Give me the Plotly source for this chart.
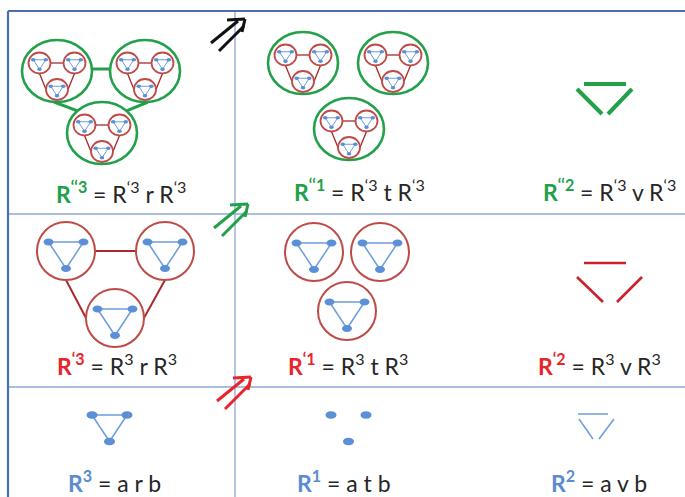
import plotly.graph_objects as go

W, H = 685, 497

# ---------------- data (pixel-space diagram geometry) ----------------
TRI = [(-17.5, -9.0), (17.5, -9.0), (0.0, 17.5)]          # triangle motif offsets
TRI_EDGES = [(0, 1), (0, 2), (1, 2)]

# bottom row: base relations
R3_center = (109.5, 424)
R1_center = (348.5, 424)
R2_lines = [((578, 414), (608, 414)), ((579, 419), (593, 439)), ((614, 419), (599, 439))]

# middle row: red circles
Rp3_centers = [(66, 251), (165, 251), (115, 318)]
Rp1_centers = [(314, 252), (380, 252), (347, 311)]
Rp_radius = 29
Rp2_lines = [((584, 263), (626, 263)), ((577, 277), (603, 302)), ((642, 277), (617, 302))]

# top row: green circles
Rpp3_centers = [(57, 71), (145, 71), (102, 133)]
Rpp1_centers = [(303, 63), (393, 63), (349, 129)]
G_rx, G_ry = 35, 31
small_rx, small_ry = 11, 10.5
Rpp2_lines = [((584, 84), (626, 84)), ((577, 89), (602, 114)), ((632, 89), (608, 114))]

# arrows (tips)
arrow_tips = [(245, 19), (248, 204), (251, 377)]
arrow_colors = ["#111111", "#22A04A", "#E8252B"]

# frame
row_lines_y = [214, 387]
col_line_x = 235

labels = [
    (121, 192, "<span style='color:#22A04A'><b>R<sup>‘‘3</sup></b></span> = R<sup>‘3</sup> r R<sup>‘3</sup>"),
    (359, 190, "<span style='color:#22A04A'><b>R<sup>‘‘1</sup></b></span> = R<sup>‘3</sup> t R<sup>‘3</sup>"),
    (609, 190, "<span style='color:#22A04A'><b>R<sup>‘‘2</sup></b></span> = R<sup>‘3</sup> v R<sup>‘3</sup>"),
    (117, 364, "<span style='color:#E8252B'><b>R<sup>‘3</sup></b></span> = R<sup>3</sup> r R<sup>3</sup>"),
    (348, 364, "<span style='color:#E8252B'><b>R<sup>‘1</sup></b></span> = R<sup>3</sup> t R<sup>3</sup>"),
    (599, 364, "<span style='color:#E8252B'><b>R<sup>‘2</sup></b></span> = R<sup>3</sup> v R<sup>3</sup>"),
    (114, 481, "<span style='color:#5B8BD0'><b>R<sup>3</sup></b></span> = a r b"),
    (344, 481, "<span style='color:#5B8BD0'><b>R<sup>1</sup></b></span> = a t b"),
    (599, 481, "<span style='color:#5B8BD0'><b>R<sup>2</sup></b></span> = a v b"),
]

BLUE = "#5B8FD6"
BLUE_L = "#6D9DDB"
RED_C = "#BE4B48"
RED_L = "#A82A2A"
RED_V = "#C8232B"
GREEN = "#22A04A"
FRAME = "#4A6FB5"
FRAME_L = "#8EA8D6"

fig = go.Figure()
shapes = []


def seg_trace(segs, color, width):
    xs, ys = [], []
    for (a, b) in segs:
        xs += [a[0], b[0], None]
        ys += [a[1], b[1], None]
    fig.add_trace(go.Scatter(x=xs, y=ys, mode="lines", line=dict(color=color, width=width),
                             hoverinfo="skip", showlegend=False))


def ellipse(cx, cy, rx, ry, color, width, fill=None):
    shapes.append(dict(type="circle", xref="x", yref="y", x0=cx - rx, x1=cx + rx, y0=cy - ry, y1=cy + ry,
                       line=dict(color=color, width=width), fillcolor=fill or "rgba(0,0,0,0)", layer="above"))


def blue_triangle(cx, cy, s, edges, node_rx, node_ry, lw):
    pts = [(cx + dx * s, cy + dy * s) for dx, dy in TRI]
    if edges:
        seg_trace([(pts[i], pts[j]) for i, j in TRI_EDGES], BLUE_L, lw)
    for p in pts:
        ellipse(p[0], p[1], node_rx, node_ry, BLUE, 0, BLUE)


def red_group(centers, rx, ry, connect, tri_scale, node_rx, node_ry, lw_c, lw_l, lw_b):
    A, B, C = centers
    if connect:
        seg_trace([((A[0] + rx, A[1]), (B[0] - rx, B[1])),
                   ((A[0], A[1] + ry), (C[0] - rx, C[1])),
                   ((B[0], B[1] + ry), (C[0] + rx, C[1]))], RED_L, lw_l)
    for c in centers:
        ellipse(c[0], c[1], rx, ry, RED_C, lw_c)
        blue_triangle(c[0], c[1], tri_scale, True, node_rx, node_ry, lw_b)


def green_group(centers, connect):
    A, B, C = centers
    if connect:
        seg_trace([((A[0] + G_rx, A[1] - 2), (B[0] - G_rx, B[1] - 2)),
                   ((A[0] - 3, A[1] + G_ry), (C[0] - 0.72 * G_rx, C[1] - 0.72 * G_ry)),
                   ((B[0] + 3, B[1] + G_ry), (C[0] + 0.72 * G_rx, C[1] - 0.72 * G_ry))], GREEN, 3)
    for g in centers:
        ellipse(g[0], g[1], G_rx, G_ry, GREEN, 2.6)
        smalls = [(g[0] + dx, g[1] + 1 + dy) for dx, dy in TRI]
        red_group(smalls, small_rx, small_ry, True, 0.36, 2.3, 1.8, 1.8, 1.3, 1.0)


# frame
seg_trace([((col_line_x, 11), (col_line_x, H))], FRAME_L, 1.3)
seg_trace([((8, y), (W, y)) for y in row_lines_y], FRAME_L, 1.6)
seg_trace([((8, 11), (W, 11)), ((8, 11), (8, H))], FRAME, 2.2)

# bottom row
blue_triangle(R3_center[0], R3_center[1], 1.0, True, 5.5, 3.8, 1.5)
blue_triangle(R1_center[0], R1_center[1], 1.0, False, 5.5, 3.8, 1.5)
seg_trace(R2_lines, BLUE_L, 1.5)

# middle row
red_group(Rp3_centers, Rp_radius, Rp_radius, True, 1.0, 5.0, 3.5, 2.0, 2.0, 1.5)
red_group(Rp1_centers, Rp_radius, Rp_radius, False, 1.0, 5.0, 3.5, 2.0, 2.0, 1.5)
seg_trace(Rp2_lines, RED_V, 2.6)

# top row
green_group(Rpp3_centers, True)
green_group(Rpp1_centers, False)
seg_trace(Rpp2_lines, GREEN, 4)

# arrows
for (tx, ty), col in zip(arrow_tips, arrow_colors):
    seg_trace([((tx - 18, ty + 1), (tx, ty)), ((tx, ty), (tx - 3, ty + 13)),
               ((tx - 7, ty + 2), (tx - 34, ty + 24)), ((tx - 1, ty + 7), (tx - 26, ty + 32))], col, 3)

for x, y, t in labels:
    fig.add_annotation(x=x, y=y, xref="x", yref="y", text=t, showarrow=False,
                       font=dict(family="Lato", size=23, color="#262626"),
                       xanchor="center", yanchor="middle")

fig.update_layout(
    width=W, height=H, margin=dict(l=0, r=0, t=0, b=0),
    paper_bgcolor="white", plot_bgcolor="white", shapes=shapes,
    xaxis=dict(range=[0, W], visible=False, fixedrange=True),
    yaxis=dict(range=[H, 0], visible=False, fixedrange=True),
    showlegend=False,
)
fig.write_html("out.html", config={"displayModeBar": False},
               post_script="document.body.style.margin='0';document.body.style.overflow='hidden';")
